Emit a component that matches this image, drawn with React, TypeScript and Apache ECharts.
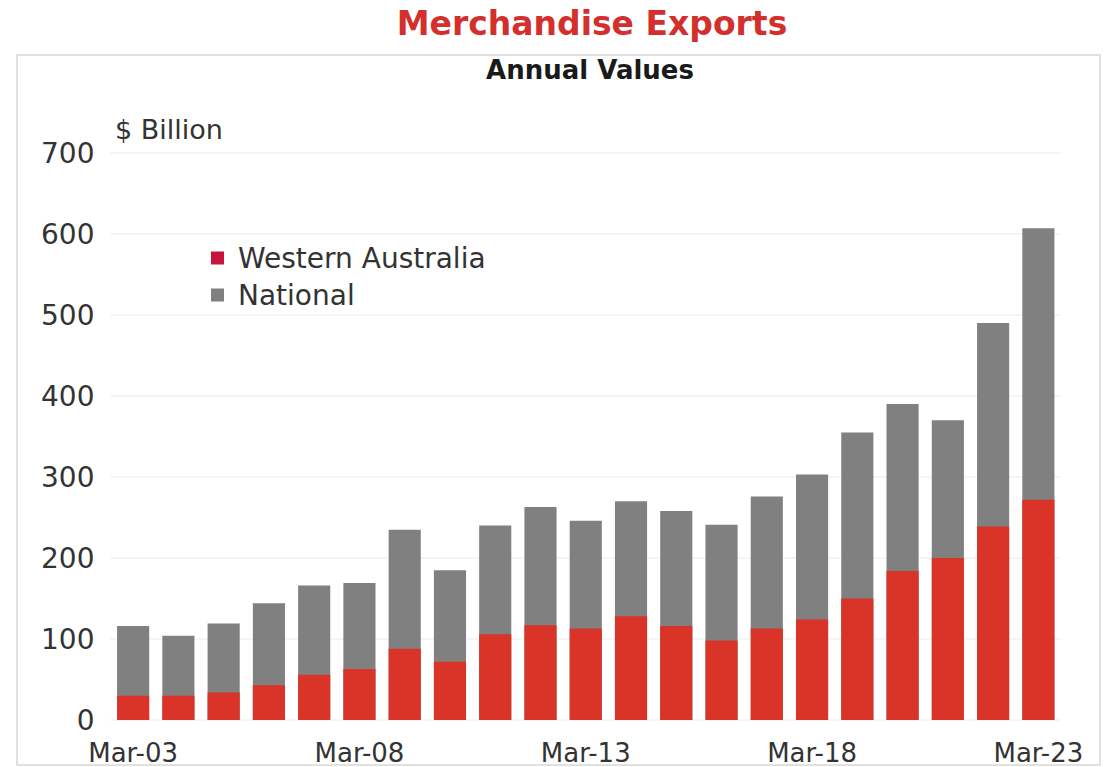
import React, { useEffect, useRef } from "react";
import * as echarts from "echarts";

const categories = [
  "Mar-03", "Mar-04", "Mar-05", "Mar-06", "Mar-07", "Mar-08", "Mar-09",
  "Mar-10", "Mar-11", "Mar-12", "Mar-13", "Mar-14", "Mar-15", "Mar-16",
  "Mar-17", "Mar-18", "Mar-19", "Mar-20", "Mar-21", "Mar-22", "Mar-23",
];
const nationalValues = [116, 104, 119, 144, 166, 169, 235, 185, 240, 263, 246, 270, 258, 241, 276, 303, 355, 390, 370, 490, 607];
const waValues = [30, 30, 34, 43, 56, 63, 88, 72, 106, 117, 113, 128, 116, 98, 113, 124, 150, 184, 200, 239, 272];
const yTicks = { min: 0, max: 700, interval: 100 };

const FONT = "DejaVu Sans";

export default function App() {
  const ref = useRef<HTMLDivElement>(null);
  useEffect(() => {
    if (!ref.current) return;
    const chart = echarts.init(ref.current, undefined, { renderer: "svg" });
    chart.setOption({
      animation: false,
      backgroundColor: "#ffffff",
      title: [
        {
          text: "Merchandise Exports",
          left: 587,
          textAlign: "center",
          top: 2,
          textStyle: { color: "#D3302D", fontSize: 33, fontWeight: "bold", fontFamily: FONT },
        },
        {
          text: "Annual Values",
          left: 585,
          textAlign: "center",
          top: 52,
          textStyle: { color: "#1a1a1a", fontSize: 26, fontWeight: "bold", fontFamily: FONT },
        },
      ],
      graphic: [
        {
          type: "rect",
          shape: { x: 17, y: 55, width: 1083, height: 710 },
          style: { fill: "none", stroke: "#D8D8D8", lineWidth: 1.5 },
          silent: true,
        },
        {
          type: "text",
          left: 115,
          top: 116,
          style: { text: "$ Billion", fontSize: 27, fontFamily: FONT, fill: "#333333" },
        },
      ],
      legend: {
        orient: "vertical",
        left: 206,
        top: 239,
        itemWidth: 13,
        itemHeight: 13,
        itemGap: 9,
        icon: "rect",
        textStyle: { fontSize: 28, fontFamily: FONT, color: "#333333", padding: [0, 0, 0, 9] },
        data: [
          { name: "Western Australia", itemStyle: { color: "#C8143C" } },
          { name: "National", itemStyle: { color: "#7F7F7F" } },
        ],
      },
      grid: { left: 110.5, right: 48, top: 153, bottom: 47, containLabel: false },
      xAxis: {
        type: "category",
        data: categories,
        axisLine: { show: false },
        axisTick: { show: false },
        axisLabel: {
          interval: 4,
          fontSize: 26,
          fontFamily: FONT,
          color: "#333333",
          margin: 20,
        },
      },
      yAxis: {
        type: "value",
        min: yTicks.min,
        max: yTicks.max,
        interval: yTicks.interval,
        axisLine: { show: false },
        axisTick: { show: false },
        splitLine: { show: true, lineStyle: { color: "#F2F2F2", width: 1.5 } },
        axisLabel: { fontSize: 28, fontFamily: FONT, color: "#333333", margin: 16 },
      },
      series: [
        {
          name: "National",
          type: "bar",
          data: nationalValues,
          barWidth: "71%",
          itemStyle: { color: "#808080" },
          z: 2,
        },
        {
          name: "Western Australia",
          type: "bar",
          data: waValues,
          barWidth: "71%",
          barGap: "-100%",
          itemStyle: { color: "#DA3327" },
          z: 3,
        },
      ],
    });
    return () => chart.dispose();
  }, []);
  return (
    <div
      ref={ref}
      style={{ position: "fixed", left: 0, top: 0, width: 1109, height: 767, background: "#fff" }}
    />
  );
}
